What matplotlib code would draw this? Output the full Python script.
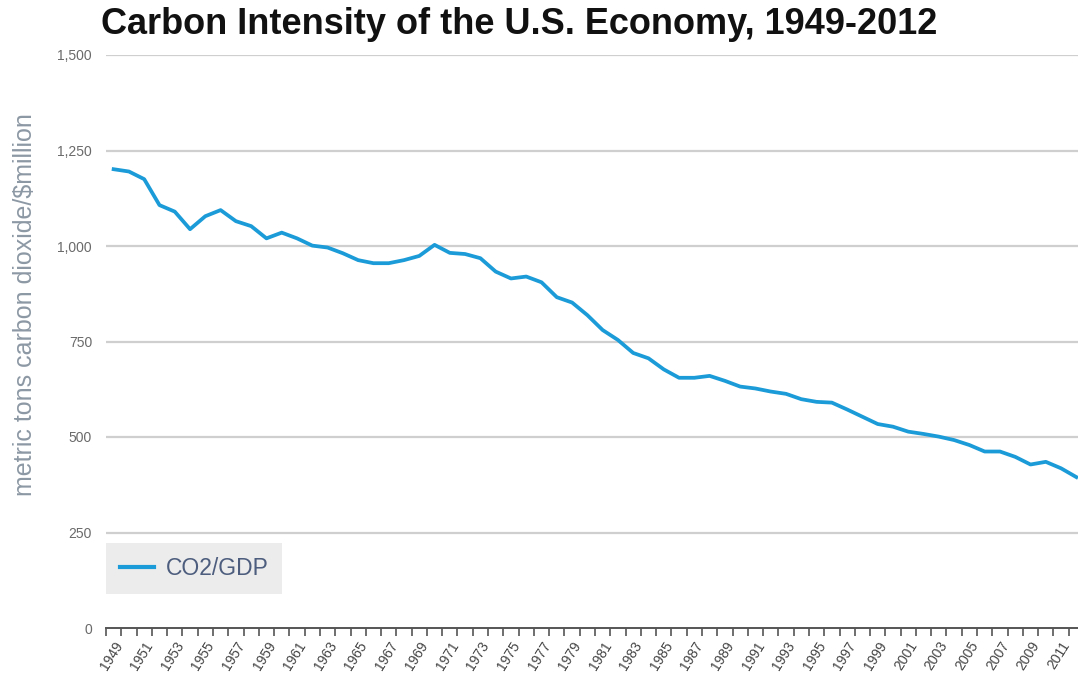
import numpy as np
import matplotlib.pyplot as plt
from matplotlib.ticker import FuncFormatter

# Carbon intensity of the U.S. economy (metric tons CO2 per $million GDP)
years = list(range(1949, 2013))
co2_gdp = [1201, 1195, 1175, 1107, 1090, 1044, 1078, 1094, 1065, 1052,
           1020, 1035, 1020, 1001, 996, 981, 963, 955, 955, 963,
           974, 1003, 982, 979, 968, 933, 915, 920, 905, 866,
           852, 819, 780, 754, 720, 706, 677, 655, 655, 660,
           647, 632, 627, 619, 613, 599, 592, 590, 572, 553,
           534, 527, 514, 508, 501, 492, 479, 462, 462, 448,
           428, 435, 418, 395]

y_ticks = [0, 250, 500, 750, 1000, 1250, 1500]
label_years = list(range(1949, 2012, 2))

line_color = '#1b9bd7'
grid_color = '#cfcfcf'

fig = plt.figure(figsize=(10.78, 6.83), dpi=100)
# axes is a bit wider than the figure: the source image is cropped on the right
ax = fig.add_axes([106 / 1078, 1 - 628 / 683, 978 / 1078, 573 / 683])

ax.plot(years, co2_gdp, color=line_color, lw=2.7, label='CO2/GDP',
        solid_joinstyle='round', zorder=3)

ax.set_xlim(1948.5, 2012.5)
ax.set_ylim(0, 1500)

# grid lines
ax.set_yticks(y_ticks)
ax.yaxis.set_major_formatter(FuncFormatter(lambda v, p: f'{int(v):,}'))
for v in y_ticks[1:]:
    ax.axhline(v, color=grid_color, lw=1.6, zorder=1)

for s in ['top', 'right', 'left']:
    ax.spines[s].set_visible(False)
ax.spines['bottom'].set_color('#555555')
ax.spines['bottom'].set_linewidth(1.4)

ax.tick_params(axis='y', length=0, pad=10, labelsize=10, labelcolor='#6a6a6a')
for t in ax.get_yticklabels():
    t.set_fontfamily('Liberation Sans')

# one tick mark per year (category edges), labels every second year
ax.set_xticks(np.arange(1948.5, 2013, 1.0), minor=True)
ax.set_xticks(label_years)
ax.set_xticklabels([str(y) for y in label_years], rotation=58, ha='right',
                   rotation_mode='anchor', fontsize=10, color='#444444',
                   family='Liberation Sans')
ax.tick_params(axis='x', which='major', length=0, pad=8)
ax.tick_params(axis='x', which='minor', length=6, width=1.2, color='#555555')

ax.set_ylabel('metric tons carbon dioxide/$million', fontsize=18,
              color='#8c98a4', family='Liberation Sans')
ax.yaxis.set_label_coords(-0.071, 0.565)

fig.text(101 / 1078, 1 - 25 / 683, 'Carbon Intensity of the U.S. Economy, 1949-2012',
         fontsize=26, fontweight='bold', family='Liberation Sans',
         va='center', ha='left', color='#111111')

leg = ax.legend(loc='lower left', bbox_to_anchor=(0.0, 0.06), borderaxespad=0,
                frameon=True, fancybox=False, facecolor='#ececec', edgecolor='none',
                framealpha=1, handlelength=1.5, borderpad=0.6, handletextpad=0.5,
                prop={'family': 'Liberation Sans', 'size': 16.5})
for t in leg.get_texts():
    t.set_color('#4d5d7d')
for h in leg.get_lines():
    h.set_linewidth(3)

plt.savefig('out.png', dpi=100)
